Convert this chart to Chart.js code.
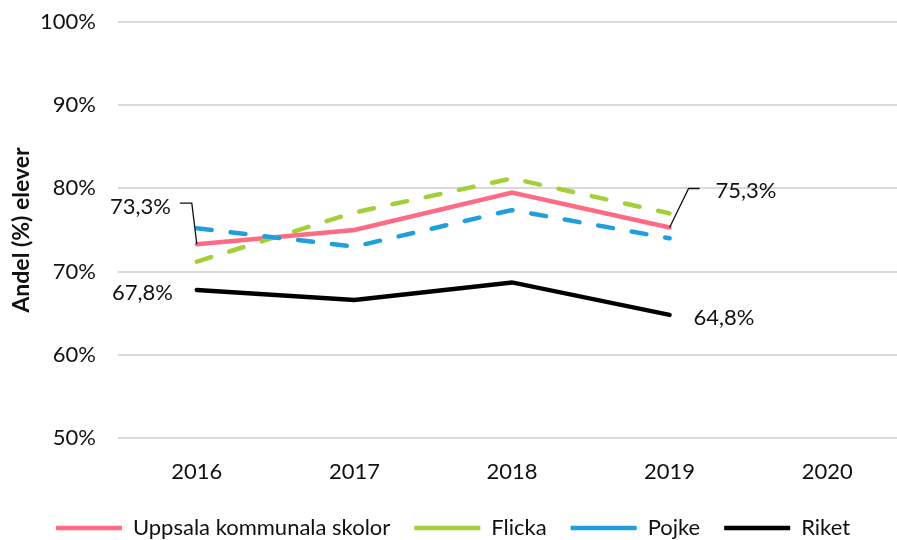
<!DOCTYPE html>
<html>
<head>
<meta charset="utf-8">
<script src="https://cdn.jsdelivr.net/npm/chart.js@4/dist/chart.umd.min.js"></script>
<style>
  html, body { margin: 0; padding: 0; background: #fff; overflow: hidden; }
  #wrap { width: 906px; height: 540px; }
</style>
</head>
<body>
<div id="wrap"><canvas id="graf"></canvas></div>
<script>
// data
var years = ['2016', '2017', '2018', '2019', '2020'];
var uppsala = [73.3, 75.0, 79.5, 75.3, null];
var flicka = [71.2, 77.1, 81.2, 77.0, null];
var pojke = [75.2, 73.0, 77.4, 74.0, null];
var riket = [67.8, 66.6, 68.7, 64.8, null];
var seriesNames = ['Uppsala kommunala skolor', 'Flicka', 'Pojke', 'Riket'];
var yTicks = [50, 60, 70, 80, 90, 100];

var FONT = 'Lato, "Open Sans", sans-serif';

function fmt(v) {
  return v.toFixed(1).replace('.', ',') + '%';
}

// value labels with leader lines, as in the original
var etiquetas = {
  id: 'etiquetas',
  afterDatasetsDraw: function(chart) {
    var ctx = chart.ctx;
    ctx.save();
    ctx.font = '22px ' + FONT;
    ctx.fillStyle = '#111';
    ctx.strokeStyle = '#111';
    ctx.lineWidth = 1.3;
    ctx.textBaseline = 'middle';

    var u = chart.getDatasetMeta(0).data;
    var r = chart.getDatasetMeta(3).data;

    // 2016 uppsala
    var p = u[0];
    ctx.beginPath();
    ctx.moveTo(p.x, p.y);
    ctx.lineTo(p.x - 5, p.y - 41);
    ctx.lineTo(p.x - 17, p.y - 41);
    ctx.stroke();
    ctx.textAlign = 'right';
    ctx.fillText(fmt(uppsala[0]), p.x - 26, p.y - 37);

    // 2019 uppsala
    p = u[3];
    ctx.beginPath();
    ctx.moveTo(p.x, p.y);
    ctx.lineTo(p.x + 19, p.y - 39);
    ctx.lineTo(p.x + 30, p.y - 39);
    ctx.stroke();
    ctx.textAlign = 'left';
    ctx.fillText(fmt(uppsala[3]), p.x + 46, p.y - 37);

    // riket
    p = r[0];
    ctx.textAlign = 'right';
    ctx.fillText(fmt(riket[0]), p.x - 24, p.y + 3);
    p = r[3];
    ctx.textAlign = 'left';
    ctx.fillText(fmt(riket[3]), p.x + 24, p.y + 3);
    ctx.restore();
  }
};

// push the legend a bit lower, closer to the bottom edge
var bajarLeyenda = {
  id: 'bajarLeyenda',
  afterLayout: function(chart) {
    if (chart.legend) {
      chart.legend.top += 9;
      chart.legend.bottom += 9;
    }
  }
};

var ctx = document.getElementById('graf').getContext('2d');
var grafico = new Chart(ctx, {
  type: 'line',
  data: {
    labels: years,
    datasets: [{
      label: seriesNames[0],
      data: uppsala,
      borderColor: '#FF6B85',
      backgroundColor: '#FF6B85',
      borderWidth: 4.5,
      borderCapStyle: 'round',
      order: 4
    }, {
      label: seriesNames[1],
      data: flicka,
      borderColor: '#A4CF3A',
      backgroundColor: '#A4CF3A',
      borderWidth: 4.5,
      borderDash: [15, 19],
      borderCapStyle: 'round',
      order: 3
    }, {
      label: seriesNames[2],
      data: pojke,
      borderColor: '#219FDD',
      backgroundColor: '#219FDD',
      borderWidth: 4.5,
      borderDash: [15, 19],
      borderCapStyle: 'round',
      order: 2
    }, {
      label: seriesNames[3],
      data: riket,
      borderColor: '#000000',
      backgroundColor: '#000000',
      borderWidth: 4.5,
      borderCapStyle: 'round',
      order: 1
    }]
  },
  options: {
    responsive: true,
    maintainAspectRatio: false,
    animation: false,
    elements: {
      point: { radius: 0, hoverRadius: 0 },
      line: { tension: 0 }
    },
    layout: { padding: { top: 22, left: 0, right: 0, bottom: 0 } },
    scales: {
      x: {
        offset: true,
        grid: { display: false },
        border: { display: false },
        ticks: {
          color: '#111',
          font: { family: FONT, size: 22 },
          padding: 13
        },
        afterFit: function(scale) { scale.height = 46; }
      },
      y: {
        min: 50,
        max: 100,
        afterBuildTicks: function(scale) {
          scale.ticks = yTicks.map(function(v) { return { value: v }; });
        },
        grid: { color: '#D9D9D9', lineWidth: 2, drawTicks: false },
        border: { display: false },
        ticks: {
          color: '#111',
          font: { family: FONT, size: 22 },
          padding: 22,
          callback: function(v) { return v + '%'; }
        },
        title: {
          display: true,
          text: 'Andel (%) elever',
          color: '#111',
          font: { family: FONT, size: 23, weight: 'bold' },
          padding: { top: 8, bottom: 0 }
        },
        afterFit: function(scale) {
          scale.width = 118;
          scale.paddingTop = 0;
          scale.paddingBottom = 0;
        }
      }
    },
    plugins: {
      tooltip: { enabled: false },
      legend: {
        position: 'bottom',
        labels: {
          color: '#111',
          font: { family: FONT, size: 22 },
          usePointStyle: true,
          pointStyle: 'line',
          pointStyleWidth: 66,
          padding: 24,
          sort: function(a, b) { return a.datasetIndex - b.datasetIndex; }
        }
      }
    }
  },
  plugins: [etiquetas, bajarLeyenda]
});
</script>
</body>
</html>
